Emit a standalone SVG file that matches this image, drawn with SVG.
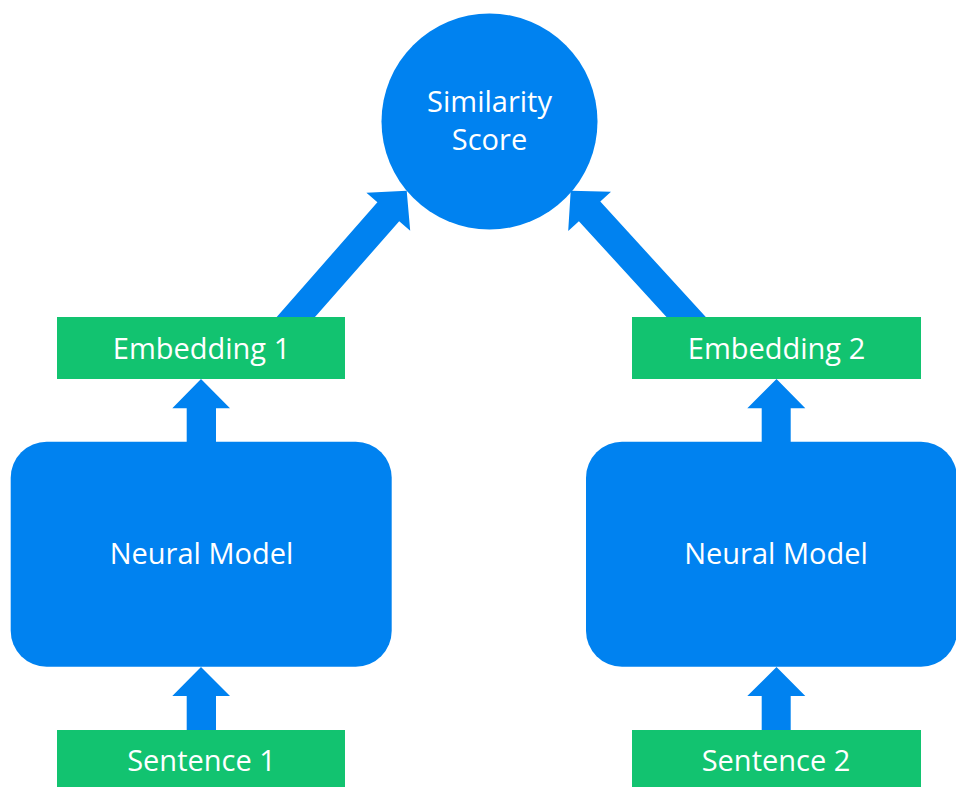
<svg xmlns="http://www.w3.org/2000/svg" width="956" height="787" viewBox="0 0 956 787">
  <style>
    .blue { fill: #0082f0; }
    .green { fill: #12c370; }
    .label { fill: #ffffff; font-family: "Open Sans", "Noto Sans", sans-serif; font-size: 29px; text-anchor: middle; }
  </style>
  <rect width="956" height="787" fill="#ffffff"/>

  <!-- connectors (drawn first so the boxes cover the shaft ends) -->
  <g id="connectors" class="blue">
    <!-- Embedding 1 -> Similarity Score -->
    <polygon points="276.7,317 377.4,202.3 366.4,192.8 406.7,190.7 410.2,230.8 399.2,221.3 315,317"/>
    <!-- Embedding 2 -> Similarity Score -->
    <polygon points="705.8,317 600.3,201.6 611.0,191.8 570.7,190.7 568.2,231.0 578.9,221.2 666.5,317"/>
    <!-- Neural Model 1 -> Embedding 1 -->
    <polygon points="186.7,442 186.7,408.3 172.3,408.3 201,379 230,408.3 216,408.3 216,442"/>
    <!-- Sentence 1 -> Neural Model 1 -->
    <polygon points="186.7,731 186.7,696 172.3,696 201,667 230,696 216,696 216,731"/>
    <!-- Neural Model 2 -> Embedding 2 -->
    <polygon points="761.7,442 761.7,408.3 747.3,408.3 776.5,379 805.3,408.3 790.7,408.3 790.7,442"/>
    <!-- Sentence 2 -> Neural Model 2 -->
    <polygon points="761.7,731 761.7,696 747.3,696 776.5,667 805.3,696 790.7,696 790.7,731"/>
  </g>

  <g id="similarity-score">
    <circle class="blue" cx="489.5" cy="121.5" r="108"/>
    <text class="label" x="489.5" y="111.5">Similarity</text>
    <text class="label" x="489.5" y="150">Score</text>
  </g>

  <g id="embedding-1">
    <rect class="green" x="57" y="317" width="288" height="62"/>
    <text class="label" x="201.5" y="359">Embedding 1</text>
  </g>

  <g id="embedding-2">
    <rect class="green" x="632" y="317" width="289" height="62"/>
    <text class="label" x="776.5" y="359">Embedding 2</text>
  </g>

  <g id="neural-model-1">
    <rect class="blue" x="10.7" y="441.7" width="381" height="225" rx="36" ry="36"/>
    <text class="label" x="201.5" y="564">Neural Model</text>
  </g>

  <g id="neural-model-2">
    <rect class="blue" x="586" y="441.7" width="371" height="225" rx="36" ry="36"/>
    <text class="label" x="776" y="564">Neural Model</text>
  </g>

  <g id="sentence-1">
    <rect class="green" x="57" y="730" width="288" height="62"/>
    <text class="label" x="201.5" y="771">Sentence 1</text>
  </g>

  <g id="sentence-2">
    <rect class="green" x="632" y="730" width="289" height="62"/>
    <text class="label" x="776" y="771">Sentence 2</text>
  </g>
</svg>
